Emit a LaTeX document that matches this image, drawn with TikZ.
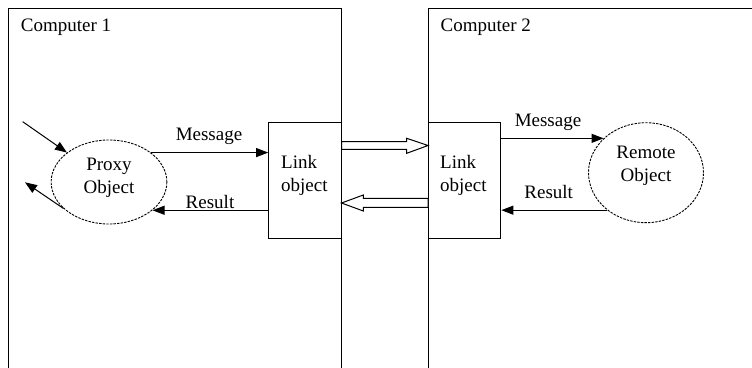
\documentclass[tikz,border=0pt]{standalone}
\usepackage{fontspec}
\setmainfont{Liberation Serif}
\usetikzlibrary{arrows.meta,shapes.geometric,calc}
\tikzset{
  frame/.style={line width=1pt},
  linkbox/.style={draw,line width=1pt,rectangle,minimum width=72.3pt,minimum height=116pt,inner sep=0pt},
  objshape/.style={draw,ellipse,line width=0.9pt,dash pattern=on 2.4pt off 1.2pt,inner sep=0pt},
  txt/.style={font=\fontsize{19}{23}\selectfont,inner sep=0pt},
  msg/.style={line width=1pt,-{Triangle[length=12pt,width=9pt]}},
  hollow/.style={draw,line width=1pt,fill=white,line join=miter}
}
\begin{document}
\begin{tikzpicture}[x=1pt,y=-1pt]
\useasboundingbox (0,0) rectangle (752,367);
\clip (0,0) rectangle (752,367);
% the two computers
\draw[frame] (8,380) -- (8,8) -- (341,8) -- (341,380);
\draw[frame] (428.7,380) -- (428.7,8) -- (770,8);
\node[txt,anchor=west] (c1) at (20.7,27) {Computer 1};
\node[txt,anchor=west] (c2) at (440.5,27) {Computer 2};
% link objects
\node[linkbox] (link1) at (304.85,180.7) {};
\node[linkbox] (link2) at (464.7,180.7) {};
\node[txt,anchor=west,align=left] (l1t) at (281,175.5) {Link\\object};
\node[txt,anchor=west,align=left] (l2t) at (440,175.5) {Link\\object};
% proxy and remote objects
\node[objshape,minimum width=115.7pt,minimum height=84pt] (proxy) at (109,182) {};
\node[txt,align=center] (proxyt) at (109,177.5) {Proxy\\Object};
\node[objshape,minimum width=115pt,minimum height=100pt] (remote) at (646,172.7) {};
\node[txt,align=center] (remotet) at (646,165.5) {Remote\\Object};
% calls in and out of the proxy
\coordinate (inA) at (22.7,121.7);
\coordinate (outB) at (25,182.3);
\draw[msg] (inA) -- (proxy.145.5);
\draw[msg] (proxy.210) -- (outB);
% messages and results on computer 1
\draw[msg] (proxy.35) -- (proxy.35 -| link1.west);
\draw[msg] (proxy.-33 -| link1.west) -- (proxy.-33);
\node[txt] (m1) at (209,136) {Message};
\node[txt] (r1) at (210,202) {Result};
% messages and results on computer 2
\draw[msg] (remote.141.2 -| link2.east) -- (remote.141.2);
\draw[msg] (remote.224.2) -- (remote.224.2 -| link2.east);
\node[txt] (m2) at (548,122) {Message};
\node[txt] (r2) at (548.7,192) {Result};
% hollow arrows between the link objects
\path[hollow] (link1.east |- 0,141.7) -- (406.7,141.7) -- (406.7,138.3)
  -- (link2.west |- 0,145.5) -- (406.7,153.3) -- (406.7,149.3)
  -- (link1.east |- 0,149.3) -- cycle;
\path[hollow] (link2.west |- 0,198.3) -- (363.3,198.3) -- (363.3,195)
  -- (link1.east |- 0,203) -- (363.3,211) -- (363.3,207.3)
  -- (link2.west |- 0,207.3) -- cycle;
\end{tikzpicture}
\end{document}
